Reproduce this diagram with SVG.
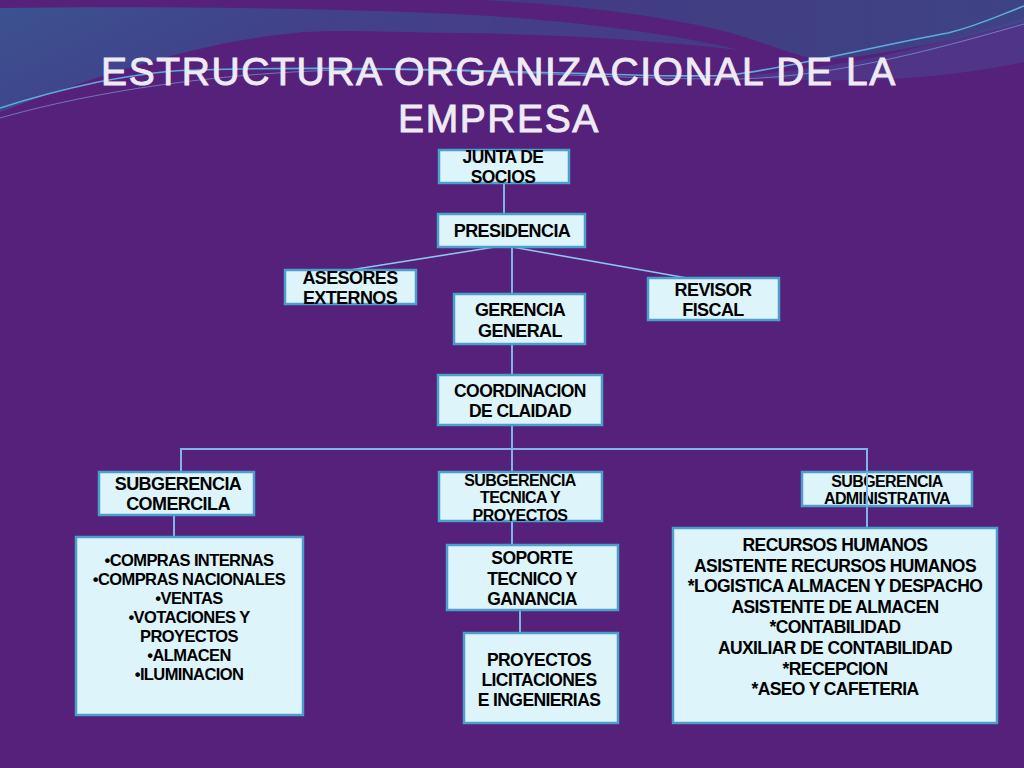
<svg xmlns="http://www.w3.org/2000/svg" width="1024" height="768" viewBox="0 0 1024 768">
<defs>
<linearGradient id="blueA" x1="0" y1="0" x2="1" y2="0.3">
<stop offset="0" stop-color="#3B5290"/>
<stop offset="0.4" stop-color="#41428A"/>
<stop offset="1" stop-color="#473A88"/>
</linearGradient>
<linearGradient id="blueB" x1="0" y1="0" x2="1" y2="0">
<stop offset="0" stop-color="#433A84"/>
<stop offset="1" stop-color="#3E4384"/>
</linearGradient>
<style>
.box{fill:#DDF4FB;stroke:#4A9FCB;stroke-width:2.5}
.t{font-family:"Liberation Sans",Arial,sans-serif;font-weight:bold;fill:#000;text-anchor:middle;letter-spacing:-0.6px}
.title{font-family:"Liberation Sans",Arial,sans-serif;font-size:39px;fill:#EEEAF4;stroke:#EEEAF4;stroke-width:0.9;letter-spacing:1.6px;text-anchor:middle}
.c{stroke:#7FB6E6;stroke-width:2;fill:none}
.ct{stroke:#8CC6F0;stroke-width:1.6;fill:none}
</style>
</defs>
<rect width="1024" height="768" fill="#55217A"/>
<g id="background">
<path d="M0,8 C150,6 350,8 490,16 C600,24 680,36 740,50 C650,40 560,34 460,33 C380,32 330,29 294,33 C200,42 100,75 0,112 Z" fill="url(#blueA)"/>
<path d="M480,0 H1024 V22 C960,38 890,55 820,60 C790,55 760,40 720,30 C640,12 560,4 480,0 Z" fill="url(#blueB)"/>
<path d="M730,76 C850,70 950,40 1024,18 V62 C950,78 850,86 730,76 Z" fill="#4A4C98" opacity="0.45"/>
<path d="M0,108 C40,95 70,88 98,82 C140,74 170,70 196,70 C330,66 460,70 600,74 C660,76 700,77 730,75 C790,68 880,45 948,33 C980,25 1000,15 1024,6" fill="none" stroke="#5FB8EA" stroke-width="1.6" opacity="0.9"/>
<path d="M0,118 C80,95 200,74 340,70 C470,67 610,80 740,79 C840,76 940,48 1024,24" fill="none" stroke="#8FCBF2" stroke-width="1" opacity="0.5"/>
</g>
<g id="title">
<text class="title" x="499" y="85">ESTRUCTURA ORGANIZACIONAL DE LA</text>
<text class="title" x="499" y="132">EMPRESA</text>
</g>
<g id="connectors">
<line class="c" x1="504" y1="183" x2="504" y2="214"/>
<line class="c" x1="512" y1="247" x2="512" y2="294"/>
<line class="ct" x1="495" y1="247" x2="350" y2="270"/>
<line class="ct" x1="512" y1="247" x2="687" y2="278"/>
<line class="c" x1="512" y1="344" x2="512" y2="375"/>
<line class="c" x1="512" y1="425" x2="512" y2="472"/>
<polyline class="c" points="181,472 181,449 867,449 867,528"/>
<line class="c" x1="174" y1="516" x2="174" y2="537"/>
<line class="c" x1="512" y1="521" x2="512" y2="545"/>
<line class="c" x1="520" y1="610" x2="520" y2="633"/>
</g>
<g id="junta">
<rect class="box" x="439" y="150" width="130" height="33"/>
<text class="t" font-size="17.5" x="503" y="163">JUNTA DE</text>
<text class="t" font-size="17.5" x="503" y="183">SOCIOS</text>
</g>
<g id="presidencia">
<rect class="box" x="438" y="214" width="147" height="33"/>
<text class="t" font-size="18" x="512" y="237">PRESIDENCIA</text>
</g>
<g id="asesores">
<rect class="box" x="285" y="270" width="131" height="34"/>
<text class="t" font-size="18" x="350" y="284">ASESORES</text>
<text class="t" font-size="18" x="350" y="304">EXTERNOS</text>
</g>
<g id="gerencia">
<rect class="box" x="454" y="294" width="131" height="50"/>
<text class="t" font-size="18" x="520" y="316">GERENCIA</text>
<text class="t" font-size="18" x="520" y="336.5">GENERAL</text>
</g>
<g id="revisor">
<rect class="box" x="648" y="278" width="131" height="42"/>
<text class="t" font-size="18" x="713" y="296">REVISOR</text>
<text class="t" font-size="18" x="713" y="316">FISCAL</text>
</g>
<g id="coordinacion">
<rect class="box" x="438" y="375" width="164" height="50"/>
<text class="t" font-size="17.5" x="520" y="396.5">COORDINACION</text>
<text class="t" font-size="17.5" x="520" y="416.5">DE CLAIDAD</text>
</g>
<g id="sub-comercial">
<rect class="box" x="99" y="472" width="155" height="43"/>
<text class="t" font-size="18" x="178" y="490">SUBGERENCIA</text>
<text class="t" font-size="18" x="178" y="510">COMERCILA</text>
</g>
<g id="lista-comercial">
<rect class="box" x="76" y="537" width="227" height="178"/>
<text class="t" font-size="16.5" x="189" y="566">•COMPRAS INTERNAS</text>
<text class="t" font-size="16.5" x="189" y="585">•COMPRAS NACIONALES</text>
<text class="t" font-size="16.5" x="189" y="604">•VENTAS</text>
<text class="t" font-size="16.5" x="189" y="623">•VOTACIONES Y</text>
<text class="t" font-size="16.5" x="189" y="642">PROYECTOS</text>
<text class="t" font-size="16.5" x="189" y="660.5">•ALMACEN</text>
<text class="t" font-size="16.5" x="189" y="679.5">•ILUMINACION</text>
</g>
<g id="sub-tecnica">
<rect class="box" x="439" y="472" width="163" height="49"/>
<text class="t" font-size="16" x="520" y="485.5">SUBGERENCIA</text>
<text class="t" font-size="16" x="520" y="503">TECNICA Y</text>
<text class="t" font-size="16" x="520" y="521">PROYECTOS</text>
</g>
<g id="soporte">
<rect class="box" x="447" y="545" width="171" height="65"/>
<text class="t" font-size="17.5" x="532" y="564">SOPORTE</text>
<text class="t" font-size="17.5" x="532" y="584.5">TECNICO Y</text>
<text class="t" font-size="17.5" x="532" y="604.5">GANANCIA</text>
</g>
<g id="proyectos">
<rect class="box" x="464" y="633" width="154" height="90"/>
<text class="t" font-size="17.5" x="539" y="665.5">PROYECTOS</text>
<text class="t" font-size="17.5" x="539" y="686">LICITACIONES</text>
<text class="t" font-size="17.5" x="539" y="706">E INGENIERIAS</text>
</g>
<g id="sub-administrativa">
<rect class="box" x="802" y="472" width="170" height="34"/>
<text class="t" font-size="16" x="887" y="486.5">SUBGERENCIA</text>
<text class="t" font-size="16" x="887" y="504">ADMINISTRATIVA</text>
</g>
<line class="c" x1="867" y1="472" x2="867" y2="506"/>
<g id="lista-administrativa">
<rect class="box" x="673" y="528" width="324" height="195"/>
<text class="t" font-size="17.5" x="835" y="551">RECURSOS HUMANOS</text>
<text class="t" font-size="17.5" x="835" y="571.5">ASISTENTE RECURSOS HUMANOS</text>
<text class="t" font-size="17.5" x="835" y="592">*LOGISTICA ALMACEN Y DESPACHO</text>
<text class="t" font-size="17.5" x="835" y="612.5">ASISTENTE DE ALMACEN</text>
<text class="t" font-size="17.5" x="835" y="633">*CONTABILIDAD</text>
<text class="t" font-size="17.5" x="835" y="654">AUXILIAR DE CONTABILIDAD</text>
<text class="t" font-size="17.5" x="835" y="674.5">*RECEPCION</text>
<text class="t" font-size="17.5" x="835" y="695">*ASEO Y CAFETERIA</text>
</g>
</svg>
